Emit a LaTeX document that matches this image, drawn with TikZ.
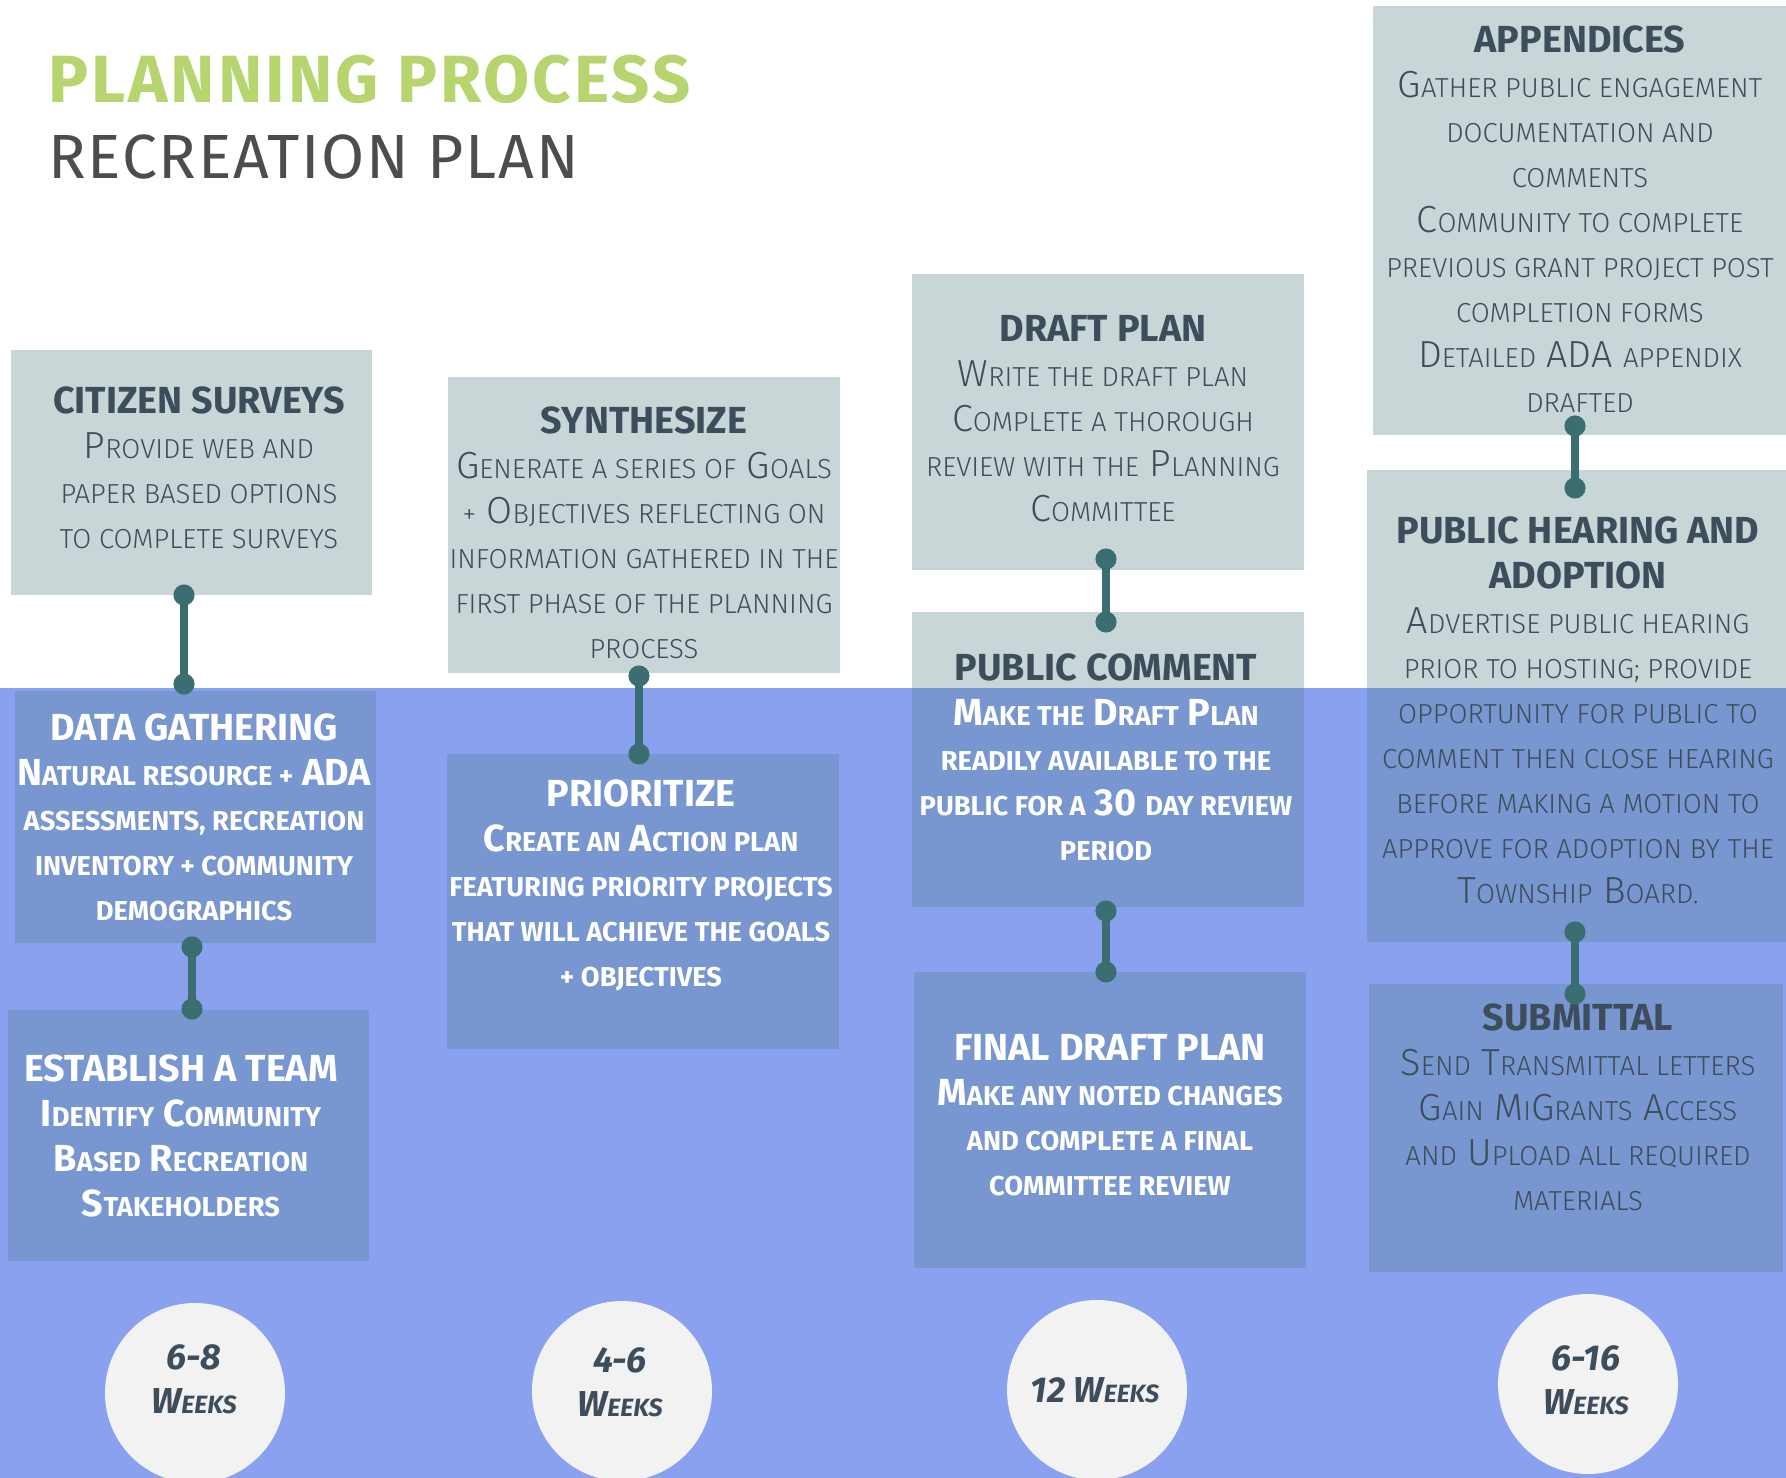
\documentclass[tikz,border=0pt]{standalone}
\usepackage{fontspec}
\setmainfont{Fira Sans}
\newfontfamily\lightfont{Fira Sans Light}
\usetikzlibrary{arrows.meta}
\definecolor{bandblue}{HTML}{8AA1EF}
\definecolor{boxblue}{HTML}{7896CF}
\definecolor{boxgray}{HTML}{C8D6D8}
\definecolor{darktext}{HTML}{3E4D5B}
\definecolor{tealc}{HTML}{3A6E70}
\definecolor{titlegreen}{HTML}{B6D56F}
\definecolor{titlegray}{HTML}{4D4D4D}
\definecolor{circfill}{HTML}{F2F2F2}
\def\smsize{27.5}
\newcommand\sm[1]{{\fontsize{\smsize}{45}\selectfont\MakeUppercase{#1}}}
\newcommand\ttl[1]{{\normalfont\bfseries\fontsize{37.7}{45}\selectfont #1}}
\tikzset{
  graybox/.style={fill=boxgray, inner sep=0pt, outer sep=0pt},
  bluebox/.style={fill=boxblue, inner sep=0pt, outer sep=0pt},
  darkbody/.style={anchor=north, align=center, inner sep=0pt, text=darktext,
    font=\lightfont\fontsize{37.7}{45}\selectfont\def\smsize{27.5}},
  whitebody/.style={anchor=north, align=center, inner sep=0pt, text=white,
    font=\bfseries\fontsize{37.7}{45}\selectfont\def\smsize{27.3}},
  link/.style={draw=tealc, line width=8pt,
    {Circle[length=21pt,width=21pt]}-{Circle[length=21pt,width=21pt]},
    shorten <=-10.5pt, shorten >=-10.5pt},
  weekcirc/.style={circle, fill=circfill, minimum size=180pt, inner sep=0pt},
  weektext/.style={anchor=north, align=center, inner sep=0pt, text=darktext,
    font=\bfseries\itshape\fontsize{36}{44}\selectfont\def\smsize{25}}
}
\begin{document}
\begin{tikzpicture}[x=1pt,y=-1pt]
\fill[white] (0,0) rectangle (1786,1478);
\useasboundingbox (0,0) rectangle (1786,1478);
\fill[bandblue] (0,688) rectangle (1786,1478);

% titles
\node[anchor=north west, inner sep=0pt, text=titlegreen,
  font=\bfseries\fontsize{66.8}{70}\selectfont\addfontfeature{LetterSpace=4.5}] (title) at (48,55) {PLANNING PROCESS};
\node[anchor=north west, inner sep=0pt, text=titlegray,
  font=\fontsize{62.4}{66}\selectfont\addfontfeature{LetterSpace=2.8}] (subtitle) at (48,135) {RECREATION PLAN};

% boxes
\node[graybox, minimum width=361pt, minimum height=245pt] (cs) at (191.5,472.5) {};
\node[bluebox, minimum width=361pt, minimum height=252pt] (dg) at (195.5,817) {};
\node[bluebox, minimum width=361pt, minimum height=251pt] (et) at (188.5,1135.5) {};
\node[graybox, minimum width=392pt, minimum height=296pt] (sy) at (644,525) {};
\node[bluebox, minimum width=392pt, minimum height=295pt] (pr) at (643,901.5) {};
\node[graybox, minimum width=392pt, minimum height=296pt] (dp) at (1108,422) {};
\node[graybox, minimum width=392pt, minimum height=295pt] (pc) at (1108,759.5) {};
\node[bluebox, minimum width=392pt, minimum height=296pt] (fd) at (1110,1120) {};
\node[graybox, minimum width=413pt, minimum height=429pt] (ap) at (1579.5,220.5) {};
\node[graybox, minimum width=419pt, minimum height=472pt] (ph) at (1576.5,706) {};
\node[bluebox, minimum width=414pt, minimum height=288pt] (su) at (1576,1128) {};
\begin{scope}
\clip (0,688) rectangle (1786,1478);
\fill[boxblue] (pc.north west) rectangle (pc.south east);
\fill[boxblue] (ph.north west) rectangle (ph.south east);
\end{scope}

% texts
\node[darkbody] (cs-t) at ([xshift=7.5pt,yshift=-37pt]cs.north)
 {\ttl{CITIZEN SURVEYS}\\ P\sm{rovide web and}\\ \sm{paper based options}\\ \sm{to complete surveys}};
\node[whitebody] (dg-t) at ([xshift=-1.5pt,yshift=-23pt]dg.north)
 {\ttl{DATA GATHERING}\\ N\sm{atural resource +} ADA\\ \sm{assessments, recreation}\\ \sm{inventory + community}\\ \sm{demographics}};
\node[whitebody] (et-t) at ([xshift=-7.5pt,yshift=-45pt]et.north)
 {\ttl{ESTABLISH A TEAM}\\ I\sm{dentify} C\sm{ommunity}\\ B\sm{ased} R\sm{ecreation}\\ S\sm{takeholders}};
\node[darkbody] (sy-t) at ([yshift=-30pt]sy.north)
 {\ttl{SYNTHESIZE}\\ G\sm{enerate a series of} G\sm{oals}\\ \sm{+} O\sm{bjectives reflecting on}\\ \sm{information gathered in the}\\ \sm{first phase of the planning}\\ \sm{process}};
\node[whitebody] (pr-t) at ([xshift=-2pt,yshift=-26pt]pr.north)
 {\ttl{PRIORITIZE}\\ C\sm{reate an} A\sm{ction plan}\\ \sm{featuring priority projects}\\ \sm{that will achieve the goals}\\ \sm{+ objectives}};
\node[darkbody] (dp-t) at ([xshift=-5pt,yshift=-41pt]dp.north)
 {\ttl{DRAFT PLAN}\\ W\sm{rite the draft plan}\\ C\sm{omplete a thorough}\\ \sm{review with the} P\sm{lanning}\\ C\sm{ommittee}};
\node[whitebody] (pc-t) at ([xshift=-2pt,yshift=-42pt]pc.north)
 {\ttl{\color{darktext}PUBLIC COMMENT}\\ M\sm{ake the} D\sm{raft} P\sm{lan}\\ \sm{readily available to the}\\ \sm{public for a} 30 \sm{day review}\\ \sm{period}};
\node[whitebody] (fd-t) at ([yshift=-62pt]fd.north)
 {\ttl{FINAL DRAFT PLAN}\\ M\sm{ake any noted changes}\\ \sm{and complete a final}\\ \sm{committee review}};
\node[darkbody] (ap-t) at ([xshift=0.5pt,yshift=-20pt]ap.north)
 {\ttl{APPENDICES}\\ G\sm{ather public engagement}\\ \sm{documentation and}\\ \sm{comments}\\ C\sm{ommunity to complete}\\ \sm{previous grant project post}\\ \sm{completion forms}\\ D\sm{etailed} ADA \sm{appendix}\\ \sm{drafted}};
\node[darkbody] (ph-t) at ([xshift=1.5pt,yshift=-47pt]ph.north)
 {\ttl{PUBLIC HEARING AND}\\ \ttl{ADOPTION}\\ A\sm{dvertise public hearing}\\ \sm{prior to hosting; provide}\\ \sm{opportunity for public to}\\ \sm{comment then close hearing}\\ \sm{before making a motion to}\\ \sm{approve for adoption by the}\\ T\sm{ownship} B\sm{oard.}};
\node[darkbody] (su-t) at ([xshift=2pt,yshift=-20pt]su.north)
 {\ttl{SUBMITTAL}\\ S\sm{end} T\sm{ransmittal letters}\\ G\sm{ain} M\sm{i}G\sm{rants} A\sm{ccess}\\ \sm{and} U\sm{pload all required}\\ \sm{materials}};

% connectors
\draw[link] ([xshift=-7.5pt]cs.south) -- ([xshift=-11.5pt,yshift=7pt]dg.north);
\draw[link] ([xshift=-3.5pt,yshift=-4pt]dg.south) -- ([xshift=3.5pt,yshift=1pt]et.north);
\draw[link] ([xshift=-5pt,yshift=-3pt]sy.south) -- ([xshift=-4pt]pr.north);
\draw[link] ([xshift=-2pt,yshift=11pt]dp.south) -- ([xshift=-2pt,yshift=-10pt]pc.north);
\draw[link] ([xshift=-2pt,yshift=-4pt]pc.south) -- ([xshift=-4pt]fd.north);
\draw[link] ([xshift=-4.5pt,yshift=9pt]ap.south) -- ([xshift=-1.5pt,yshift=-18pt]ph.north);
\draw[link] ([xshift=-1.5pt,yshift=10pt]ph.south) -- ([xshift=-1pt,yshift=-10pt]su.north);

% week circles
\node[weekcirc] (w1) at (195,1393) {};
\node[weekcirc] (w2) at (622,1391) {};
\node[weekcirc] (w3) at (1097,1390) {};
\node[weekcirc] (w4) at (1588,1384) {};
\node[weektext] (w1-t) at ([xshift=-1pt,yshift=49pt]w1.center) {6-8\\ W\sm{eeks}};
\node[weektext] (w2-t) at ([xshift=-2pt,yshift=44pt]w2.center) {4-6\\ W\sm{eeks}};
\node[weektext] (w3-t) at ([xshift=-2pt,yshift=13pt]w3.center) {12 W\sm{eeks}};
\node[weektext] (w4-t) at ([xshift=-2pt,yshift=39pt]w4.center) {6-16\\ W\sm{eeks}};
\end{tikzpicture}
\end{document}
